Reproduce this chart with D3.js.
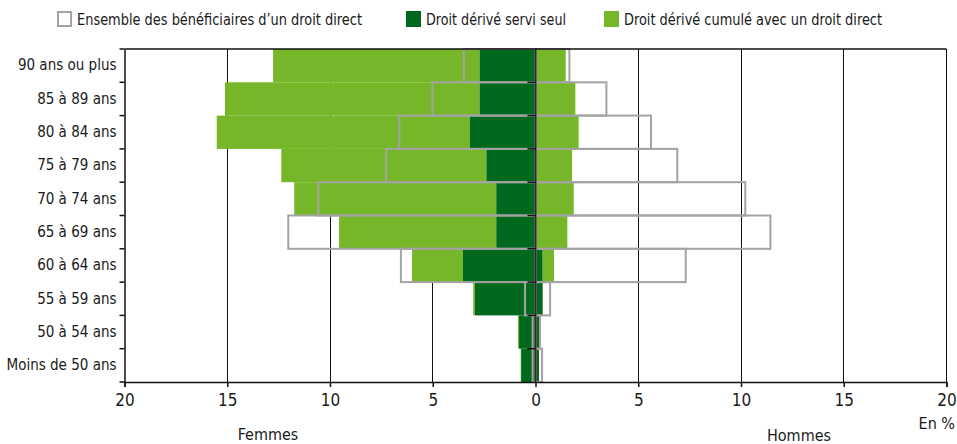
<!DOCTYPE html>
<html>
<head>
<meta charset="utf-8">
<script src="https://cdn.jsdelivr.net/npm/d3@7"></script>
<style>
  body { margin: 0; background: #fff; }
  svg text { font-family: "DejaVu Sans Condensed", "DejaVu Sans", sans-serif; font-stretch: condensed; fill: #1a1a1a; }
</style>
</head>
<body>
<div id="chart"></div>
<script>
// age groups, top to bottom
var ages = ["90 ans ou plus", "85 à 89 ans", "80 à 84 ans", "75 à 79 ans", "70 à 74 ans",
            "65 à 69 ans", "60 à 64 ans", "55 à 59 ans", "50 à 54 ans", "Moins de 50 ans"];

// women (en %)
var femSeul   = [2.72, 2.72, 3.20, 2.39, 1.91, 1.91, 3.53, 2.95, 0.80, 0.70];
var femCumule = [10.05, 12.39, 12.31, 9.98, 9.83, 7.65, 2.48, 0.08, 0.05, 0.02];
var femDirect = [3.48, 5.02, 6.63, 7.27, 10.57, 12.03, 6.55, 0.51, 0.14, 0.14];

// men (en %)
var homSeul   = [0.05, 0.05, 0.05, 0.05, 0.05, 0.05, 0.35, 0.35, 0.17, 0.17];
var homCumule = [1.42, 1.89, 2.05, 1.73, 1.81, 1.50, 0.55, 0, 0, 0];
var homDirect = [1.65, 3.45, 5.62, 6.90, 10.21, 11.43, 7.31, 0.71, 0.22, 0.32];

var xTicks = [-20, -15, -10, -5, 0, 5, 10, 15, 20];

var legendItems = [
  {label: "Ensemble des bénéficiaires d\u2019un droit direct", key: "direct"},
  {label: "Droit dérivé servi seul", key: "seul"},
  {label: "Droit dérivé cumulé avec un droit direct", key: "cumule"}
];
var legendWidths = [285, 140, 258];

var colors = {seul: "#00691e", cumule: "#76b729", direct: "#a3a3a3"};

var width = 957, height = 444;
var margin = {top: 49, right: 10.5, bottom: 62, left: 124.5};

var svg = d3.select("#chart").append("svg")
    .attr("width", width)
    .attr("height", height);

var x = d3.scaleLinear().domain([-20, 20]).range([margin.left, width - margin.right]);
var y = d3.scaleBand().domain(ages).range([margin.top, height - margin.bottom]).padding(0);

// crisp 1px lines
function crisp(v) { return Math.round(v - 0.5) + 0.5; }

// rows built from the arrays
var rows = ages.map(function(a, i) {
  return {
    age: a,
    fSeul: femSeul[i], fCum: femCumule[i], fDir: femDirect[i],
    hSeul: homSeul[i], hCum: homCumule[i], hDir: homDirect[i]
  };
});

// vertical grid
svg.append("g").selectAll("line")
  .data(xTicks.filter(function(d) { return d !== 0 && d !== -20; }))
  .enter().append("line")
    .attr("x1", function(d) { return crisp(x(d)); })
    .attr("x2", function(d) { return crisp(x(d)); })
    .attr("y1", margin.top)
    .attr("y2", height - margin.bottom)
    .attr("stroke", "#111")
    .attr("stroke-width", 1);

var bars = svg.append("g");

// women: cumulé stacked after servi seul
bars.selectAll(".fcum").data(rows).enter().append("rect")
  .attr("x", function(d) { return x(-(d.fSeul + d.fCum)); })
  .attr("width", function(d) { return x(-d.fSeul) - x(-(d.fSeul + d.fCum)); })
  .attr("y", function(d) { return y(d.age); })
  .attr("height", y.bandwidth())
  .attr("fill", colors.cumule);

bars.selectAll(".fseul").data(rows).enter().append("rect")
  .attr("x", function(d) { return x(-d.fSeul); })
  .attr("width", function(d) { return x(0) - x(-d.fSeul); })
  .attr("y", function(d) { return y(d.age); })
  .attr("height", y.bandwidth())
  .attr("fill", colors.seul);

// men
bars.selectAll(".hseul").data(rows).enter().append("rect")
  .attr("x", x(0))
  .attr("width", function(d) { return x(d.hSeul) - x(0); })
  .attr("y", function(d) { return y(d.age); })
  .attr("height", y.bandwidth())
  .attr("fill", colors.seul);

bars.selectAll(".hcum").data(rows).enter().append("rect")
  .attr("x", function(d) { return x(d.hSeul); })
  .attr("width", function(d) { return x(d.hSeul + d.hCum) - x(d.hSeul); })
  .attr("y", function(d) { return y(d.age); })
  .attr("height", y.bandwidth())
  .attr("fill", colors.cumule);

// outlines: ensemble des bénéficiaires d'un droit direct
var outl = svg.append("g")
    .attr("fill", "none")
    .attr("stroke", colors.direct)
    .attr("stroke-width", 2);

outl.selectAll(".fdir").data(rows).enter().append("rect")
  .attr("x", function(d) { return x(-d.fDir); })
  .attr("width", function(d) { return x(0) - x(-d.fDir); })
  .attr("y", function(d) { return y(d.age); })
  .attr("height", y.bandwidth());

outl.selectAll(".hdir").data(rows).enter().append("rect")
  .attr("x", x(0))
  .attr("width", function(d) { return x(d.hDir) - x(0); })
  .attr("y", function(d) { return y(d.age); })
  .attr("height", y.bandwidth());

// band boundaries for the small ticks
var bounds = ages.map(function(a) { return y(a); }).concat([y.range()[1]]);

// zero line + its ticks
svg.append("line")
  .attr("x1", x(0)).attr("x2", x(0))
  .attr("y1", margin.top).attr("y2", height - margin.bottom)
  .attr("stroke", "#2b2b2b").attr("stroke-width", 2);

svg.append("g").selectAll("line").data(bounds.slice(1, -1)).enter().append("line")
  .attr("x1", x(0) - 8).attr("x2", x(0))
  .attr("y1", function(d) { return d; }).attr("y2", function(d) { return d; })
  .attr("stroke", "#111").attr("stroke-width", 1.5);

// top border
svg.append("line")
  .attr("x1", margin.left).attr("x2", width - margin.right)
  .attr("y1", margin.top).attr("y2", margin.top)
  .attr("stroke", "#111").attr("stroke-width", 1.5);

// left axis
var yAxis = svg.append("g")
    .attr("transform", "translate(" + margin.left + ",0)")
    .call(d3.axisLeft(y).tickSize(0).tickPadding(8));
yAxis.select(".domain").attr("stroke", "#111").attr("stroke-width", 1.5);
yAxis.selectAll("text").style("font-size", "15px");

svg.append("g").selectAll("line").data(bounds).enter().append("line")
  .attr("x1", margin.left - 5).attr("x2", margin.left)
  .attr("y1", function(d) { return d; }).attr("y2", function(d) { return d; })
  .attr("stroke", "#111").attr("stroke-width", 1.5);

// bottom axis
var xAxis = svg.append("g")
    .attr("transform", "translate(0," + (height - margin.bottom) + ")")
    .call(d3.axisBottom(x).tickValues(xTicks).tickSize(5).tickPadding(7)
      .tickFormat(function(d) { return Math.abs(d); }));
xAxis.select(".domain").attr("stroke", "#111").attr("stroke-width", 1.5);
xAxis.selectAll(".tick line").attr("stroke", "#111").attr("stroke-width", 1.5);
xAxis.selectAll("text").style("font-size", "17px");

svg.append("text")
  .attr("x", width - 2).attr("y", 429)
  .attr("text-anchor", "end")
  .style("font-size", "16px")
  .text("En %");

svg.append("text")
  .attr("x", 268).attr("y", 440)
  .attr("text-anchor", "middle")
  .style("font-size", "16px")
  .text("Femmes");

svg.append("text")
  .attr("x", 799).attr("y", 441)
  .attr("text-anchor", "middle")
  .style("font-size", "16px")
  .text("Hommes");

// legend
var legendX = [57, 406, 604];
var legend = svg.append("g").selectAll("g").data(legendItems).enter().append("g")
    .attr("transform", function(d, i) { return "translate(" + legendX[i] + ",11)"; });

legend.append("rect")
  .attr("x", function(d) { return d.key === "direct" ? 1 : 0; })
  .attr("y", function(d) { return d.key === "direct" ? 1 : 0; })
  .attr("width", function(d) { return d.key === "direct" ? 13 : 15; })
  .attr("height", function(d) { return d.key === "direct" ? 14 : 16; })
  .attr("fill", function(d) { return d.key === "direct" ? "#fff" : colors[d.key]; })
  .attr("stroke", function(d) { return d.key === "direct" ? colors.direct : "none"; })
  .attr("stroke-width", 2);

legend.append("text")
  .attr("x", 20).attr("y", 13.5)
  .attr("textLength", function(d, i) { return legendWidths[i]; })
  .attr("lengthAdjust", "spacingAndGlyphs")
  .style("font-size", "15.5px")
  .text(function(d) { return d.label; });
</script>
</body>
</html>
